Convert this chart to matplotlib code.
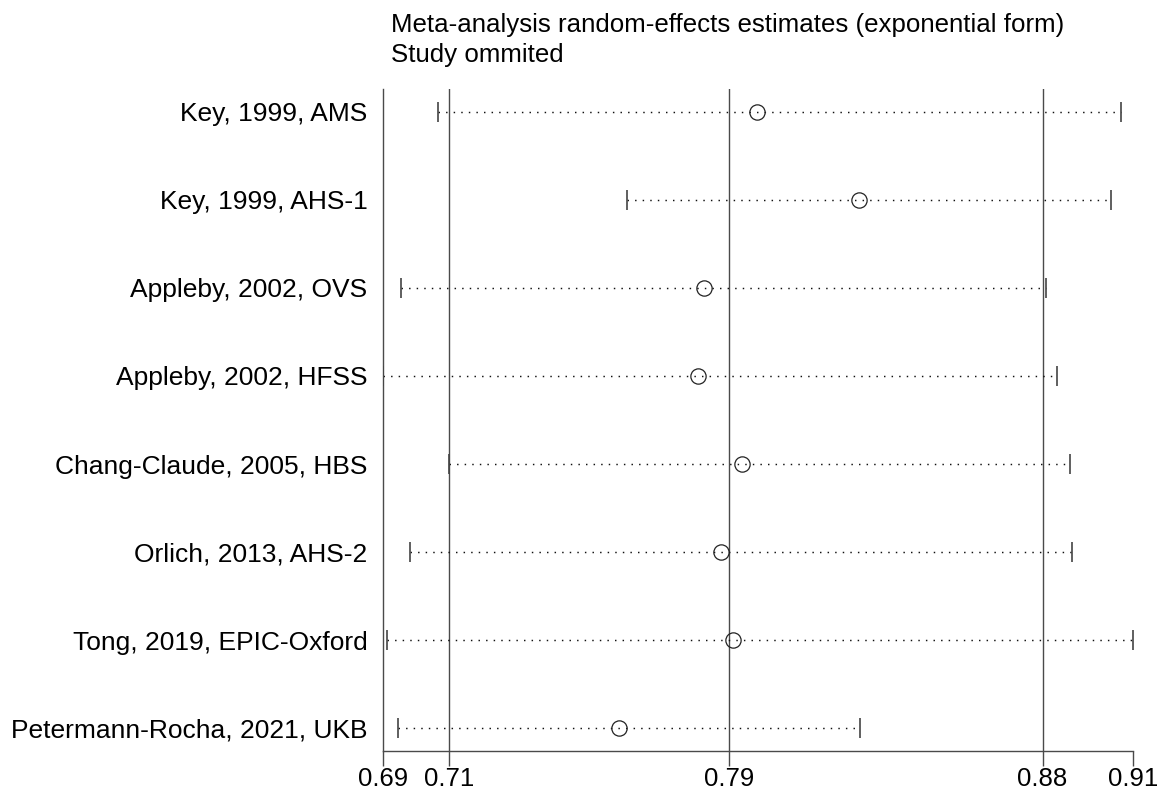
import matplotlib.pyplot as plt

plt.rcParams["font.family"] = ["Liberation Sans", "DejaVu Sans"]

studies = [
    "Key, 1999, AMS",
    "Key, 1999, AHS-1",
    "Appleby, 2002, OVS",
    "Appleby, 2002, HFSS",
    "Chang-Claude, 2005, HBS",
    "Orlich, 2013, AHS-2",
    "Tong, 2019, EPIC-Oxford",
    "Petermann-Rocha, 2021, UKB",
]
# pooled estimate with each study left out, with 95% CI
estimate = [0.7982, 0.8273, 0.7829, 0.7814, 0.7938, 0.7878, 0.7914, 0.7587]
lower = [0.7067, 0.7609, 0.6963, 0.6910, 0.7100, 0.6989, 0.6922, 0.6955]
upper = [0.9025, 0.8997, 0.8811, 0.8840, 0.8880, 0.8884, 0.9059, 0.8278]

# overall estimate and its CI
overall = [0.7100, 0.7903, 0.8800]

fig = plt.figure(figsize=(11.65, 7.92), dpi=100)
ax = fig.add_axes([0.3285, 0.0518, 0.644, 0.8358])

rows = list(range(1, len(studies) + 1))
lo_all = min(lower)
hi_all = max(upper)

for v in overall:
    ax.axvline(v, color="#4a4a4a", lw=1.0, zorder=1)

for y, lo, est, hi in zip(rows, lower, estimate, upper):
    ax.plot([lo, hi], [y, y], color="#111111", lw=1.05,
            linestyle=(0, (1.0, 4.2)), zorder=2)
    ax.plot([lo, hi], [y, y], linestyle="none", marker="|", markersize=14.5,
            markeredgewidth=1.2, color="#444444", zorder=3)
    ax.plot(est, y, marker="o", markersize=11, markerfacecolor="none",
            markeredgecolor="#222222", markeredgewidth=0.9, zorder=4)

ax.set_xlim(lo_all, hi_all)
ax.set_ylim(8.26, 0.74)

ticks = [lo_all] + overall + [hi_all]
ax.set_xticks(ticks)
ax.set_xticklabels([f"{t:.2f}" for t in ticks], fontsize=18.5)
ax.tick_params(axis="x", length=10.5, width=1.0, color="#4a4a4a", pad=1)

ax.set_yticks(rows)
ax.set_yticklabels(studies, fontsize=19)
ax.tick_params(axis="y", length=0, pad=11)

for side in ["top", "right"]:
    ax.spines[side].set_visible(False)
for side in ["left", "bottom"]:
    ax.spines[side].set_color("#4a4a4a")
    ax.spines[side].set_linewidth(1.0)

fig.text(0.3356, 0.969, "Meta-analysis random-effects estimates (exponential form)",
         fontsize=18.6, ha="left", va="center")
fig.text(0.3356, 0.931, "Study ommited", fontsize=18.6, ha="left", va="center")

fig.savefig("out.png", dpi=100)
